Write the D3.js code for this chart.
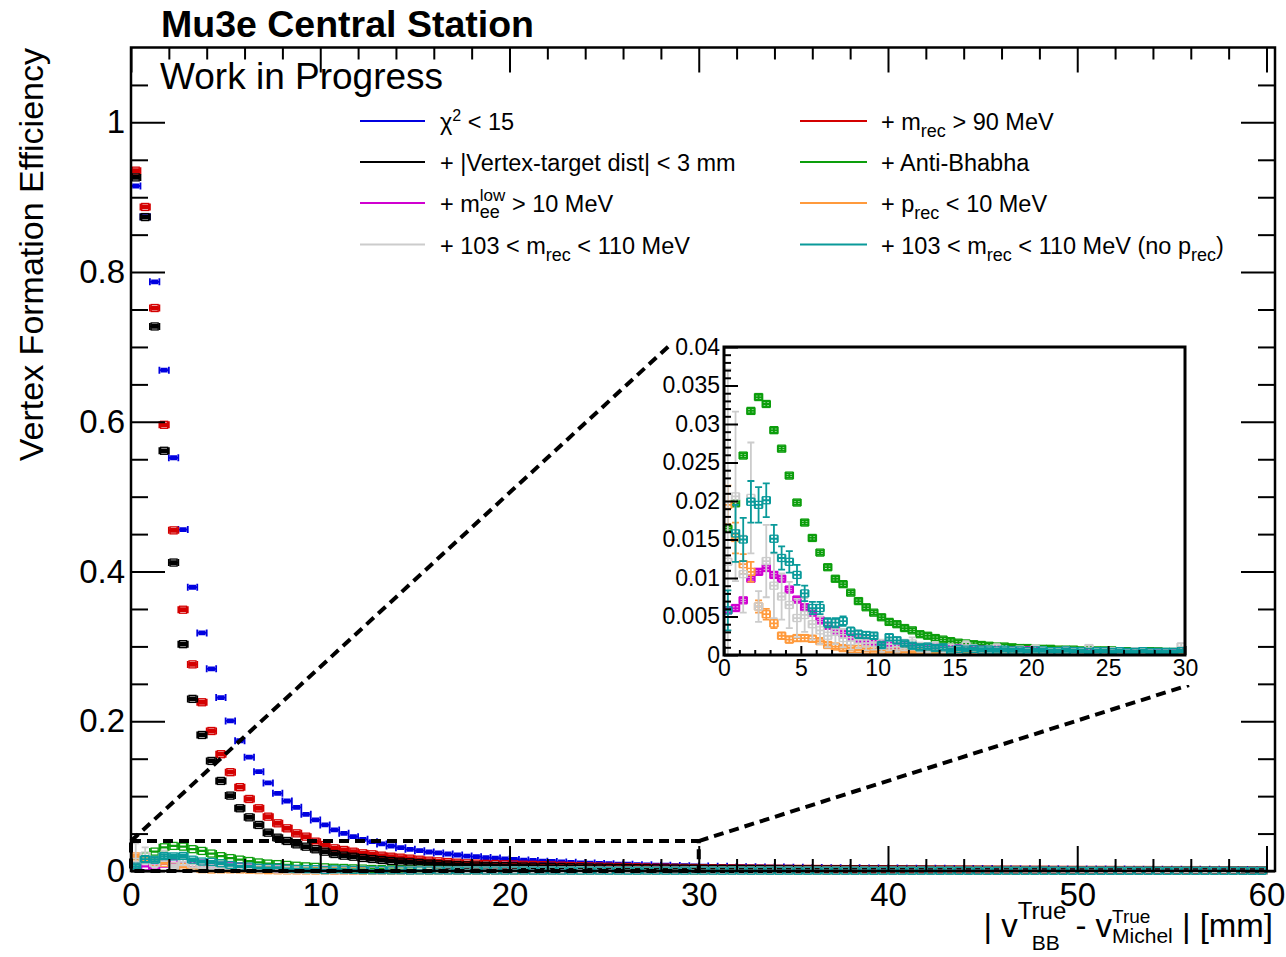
<!DOCTYPE html>
<html>
<head>
<meta charset="utf-8">
<script src="https://cdn.jsdelivr.net/npm/d3@7"></script>
<style>
  body { margin: 0; background: #fff; }
  svg { display: block; }
  svg text { white-space: pre; }
</style>
</head>
<body>
<svg id="chart" width="1286" height="957"></svg>
<script>
// bins are 0.5 mm wide, 0 - 60 mm (120 bins)
const binWidth = 0.5;

const blueEff = [
  .915,.874,.787,.669,.552,.456,.379,.318,.270,.2316,
  .2005,.174,.152,.1327,.1176,.1038,.0935,.0851,.0757,.0682,
  .0615,.0548,.0503,.0459,.0423,.0392,.0361,.0334,.0312,.0290,
  .0272,.0254,.0241,.0227,.0214,.0200,.0191,.0179,.0172,.0161,
  .0155,.0146,.0140,.0131,.0127,.0120,.0116,.0109,.0106,.0100,
  .0098,.0092,.0090,.0085,.0083,.0078,.0077,.0072,.0071,.0067,
  .0066,.0063,.0062,.0059,.0058,.0056,.0055,.0052,.0052,.0050,
  .0049,.0047,.0047,.0045,.0044,.0043,.0043,.0041,.0041,.0040,
  .0039,.0038,.0038,.0037,.0036,.0036,.0035,.0034,.0034,.0033,
  .0033,.0032,.0031,.0031,.0030,.0030,.0029,.0029,.0028,.0028,
  .0027,.0027,.0027,.0026,.0026,.0025,.0025,.0025,.0024,.0024,
  .0023,.0023,.0023,.0022,.0022,.0022,.0021,.0021,.0021,.0020];
const redEff = [
  .9355,.887,.752,.596,.455,.349,.276,.2254,.187,.156,
  .132,.112,.0962,.0838,.0726,.0637,.0570,.0503,.0459,.0392,
  .0347,.0303,.0281,.0258,.0236,.0223,.0205,.0191,.0178,.0165,
  .0151,.0138,.0129,.0120,.0111,.0102,.0099,.0095,.0093,.0090,
  .0088,.0084,.0082,.0078,.0075,.0072,.0068,.0066,.0062,.0060,
  .0057,.0055,.0053,.0050,.0048,.0046,.0045,.0043,.0041,.0040,
  .0038,.0037,.0036,.0035,.0034,.0033,.0032,.0031,.0030,.0029,
  .0028,.0028,.0027,.0026,.0026,.0025,.0024,.0024,.0023,.0023,
  .0022,.0022,.0021,.0021,.0020,.0020,.0019,.0019,.0019,.0018,
  .0018,.0017,.0017,.0017,.0016,.0016,.0016,.0015,.0015,.0015,
  .0014,.0014,.0014,.0014,.0013,.0013,.0013,.0013,.0012,.0012,
  .0012,.0012,.0012,.0011,.0011,.0011,.0011,.0011,.0010,.0010];
const blackEff = [
  .9265,.8735,.7274,.5613,.412,.303,.2299,.1817,.147,.1203,
  .1007,.0838,.0717,.0615,.0512,.0445,.0401,.0356,.0325,.0290,
  .0258,.0227,.0205,.0191,.0174,.0160,.0147,.0134,.0125,.0116,
  .0107,.0098,.0089,.0085,.0080,.0076,.0073,.0070,.0068,.0065,
  .0063,.0060,.0058,.0056,.0054,.0052,.0050,.0048,.0046,.0045,
  .0043,.0041,.0040,.0038,.0037,.0036,.0034,.0033,.0032,.0031,
  .0030,.0029,.0028,.0027,.0026,.0026,.0025,.0024,.0023,.0023,
  .0022,.0021,.0021,.0020,.0020,.0019,.0019,.0018,.0018,.0017,
  .0017,.0017,.0016,.0016,.0015,.0015,.0015,.0014,.0014,.0014,
  .0013,.0013,.0013,.0013,.0012,.0012,.0012,.0012,.0011,.0011,
  .0011,.0011,.0011,.0010,.0010,.0010,.0010,.0010,.0009,.0009,
  .0009,.0009,.0009,.0009,.0008,.0008,.0008,.0008,.0008,.0008];
const greenEff = [
  .0164,.0197,.0259,.0317,.0335,.0326,.0292,.0268,.0233,.0198,
  .0172,.0152,.0133,.0114,.0099,.0092,.0081,.0070,.0062,.0055,
  .0049,.0043,.0040,.0035,.0032,.0027,.0025,.0022,.0020,.0018,
  .0016,.0015,.0014,.0013,.0012,.0011,.0011,.0010,.0009,.0009,
  .0008,.0008,.0008,.0007,.0007,.0007,.0006,.0006,.0006,.0006,
  .0006,.0005,.0005,.0005,.0005,.0005,.0005,.0004,.0004,.0004,
  .0004,.0004,.0004,.0004,.0003,.0004,.0003,.0003,.0003,.0003,
  .0003,.0003,.0003,.0003,.0003,.0002,.0003,.0002,.0002,.0003,
  .0002,.0002,.0002,.0002,.0002,.0002,.0002,.0002,.0002,.0002,
  .0002,.0002,.0001,.0002,.0002,.0001,.0002,.0001,.0001,.0002,
  .0001,.0001,.0001,.0001,.0002,.0001,.0001,.0001,.0001,.0001,
  .0001,.0001,.0001,.0001,.0001,.0001,.0001,.0001,.0001,.0001];
const magentaEff = [
  .0058,.0061,.0071,.0099,.0108,.0113,.0104,.0099,.0085,.0072,
  .0062,.0055,.0045,.0038,.0032,.0028,.0024,.0021,.0018,.0016,
  .0014,.0012,.0012,.0011,.0011,.0010,.0010,.0010,.0009,.0009,
  .0009,.0008,.0008,.0007,.0007,.0007,.0006,.0006,.0006,.0006,
  .0005,.0005,.0005,.0005,.0005,.0004,.0004,.0004,.0004,.0004,
  .0004,.0004,.0003,.0003,.0003,.0003,.0003,.0003,.0003,.0003,
  .0003,.0003,.0003,.0002,.0003,.0002,.0002,.0002,.0002,.0002,
  .0002,.0002,.0002,.0002,.0002,.0002,.0002,.0002,.0002,.0001,
  .0002,.0002,.0001,.0002,.0001,.0002,.0001,.0001,.0002,.0001,
  .0001,.0001,.0001,.0001,.0001,.0001,.0001,.0001,.0001,.0001,
  .0001,.0001,.0001,.0001,.0001,.0001,.0001,.0001,.0001,.0001,
  .0001,.0001,.0001,.0001,.0001,.0001,.0001,.0001,.0001,.0001];
const orangeEff = [
  .0195,.0152,.0118,.0108,.0063,.0053,.0041,.0025,.0020,.0022,
  .0022,.0021,.0018,.0013,.0011,.0009,.0008,.0008,.0007,.0006,
  .0006,.0005,.0005,.0005,.0004,.0004,.0004,.0004,.0003,.0003,
  .0003,.0003,.0003,.0003,.0003,.0002,.0003,.0002,.0002,.0002,
  .0002,.0002,.0002,.0002,.0002,.0002,.0002,.0001,.0002,.0001,
  .0001,.0002,.0001,.0001,.0001,.0001,.0001,.0001,.0001,.0001,
  .0001,.0001,.0001,.0001,.0001,.0001,.0001,.0001,.0001,.0001,
  .0001,.0001,.0001,.0001,.0001,.0001,.0001,.0001,.0001,.0001,
  .0001,.0001,.0001,.0001,.0001,.0001,.0001,.0001,.0001,.0001,
  .0001,.0001,.0001,.0001,.0001,.0001,.0001,.0001,.0001,.0001,
  .0001,.0001,.0001,.0001,.0001,.0001,.0001,.0001,.0001,.0001,
  .0001,.0001,.0001,.0001,.0001,.0001,.0001,.0001,.0001,.0001];
const orangeErr = [
  .0025,.0020,.0013,.0013,.0008,.0007,.0006,.0004,.0004,.0004,
  .0004,.0004,.0003,.0003,.0003,.0003,.0002,.0002,.0002,.0002,
  .0002,.0002,.0002,.0002,.0002,.0002,.0002,.0002,.0001,.0001,
  .0001,.0001,.0001,.0001,.0001,.0001,.0001,.0001,.0001,.0001,
  .0001,.0001,.0001,.0001,.0001,.0001,.0001,.0001,.0001,.0001,
  .0001,.0001,.0001,.0001,.0001,.0001,.0001,.0001,.0001,.0001,
  .0001,.0001,.0001,.0001,.0001,.0001,.0001,.0001,.0001,.0001,
  .0001,.0001,.0001,.0001,.0001,.0001,.0001,.0001,.0001,.0001,
  .0001,.0001,.0001,.0001,.0001,.0001,.0001,.0001,.0001,.0001,
  .0001,.0001,.0001,.0001,.0001,.0001,.0001,.0001,.0001,.0001,
  .0001,.0001,.0001,.0001,.0001,.0001,.0001,.0001,.0001,.0001,
  .0001,.0001,.0001,.0001,.0001,.0001,.0001,.0001,.0001,.0001];
const grayEff = [
  .0121,.0206,.0105,.0204,.0063,.0122,.0090,.0076,.0065,.0048,
  .0052,.0040,.0032,.0025,.0030,.0022,.0018,.0020,.0015,.0016,
  .0012,.0014,.0011,.0013,.0015,.0010,.0009,.0011,.0008,.0009,
  .0007,.0012,.0008,.0006,.0007,.0009,.0006,.0005,.0007,.0005,
  .0008,.0006,.0005,.0004,.0006,.0005,.0004,.0009,.0005,.0004,
  .0005,.0004,.0003,.0005,.0004,.0003,.0004,.0003,.0004,.0011,
  .0004,.0003,.0003,.0004,.0002,.0003,.0003,.0002,.0004,.0003,
  .0002,.0003,.0002,.0002,.0003,.0002,.0002,.0003,.0002,.0002,
  .0002,.0002,.0003,.0002,.0001,.0002,.0002,.0002,.0001,.0002,
  .0002,.0001,.0002,.0002,.0001,.0002,.0001,.0001,.0002,.0001,
  .0001,.0002,.0001,.0001,.0001,.0002,.0001,.0001,.0001,.0001,
  .0001,.0001,.0001,.0002,.0001,.0001,.0001,.0001,.0001,.0001];
const grayErr = [
  .0250,.0110,.0050,.0072,.0020,.0047,.0042,.0030,.0030,.0025,
  .0022,.0020,.0018,.0015,.0016,.0012,.0011,.0011,.0009,.0009,
  .0008,.0008,.0007,.0007,.0008,.0006,.0006,.0006,.0005,.0005,
  .0005,.0006,.0005,.0004,.0004,.0005,.0004,.0004,.0004,.0003,
  .0004,.0004,.0003,.0003,.0003,.0003,.0003,.0004,.0003,.0003,
  .0003,.0003,.0002,.0003,.0003,.0002,.0002,.0002,.0002,.0004,
  .0002,.0002,.0002,.0002,.0002,.0002,.0002,.0002,.0002,.0002,
  .0002,.0002,.0002,.0002,.0002,.0002,.0002,.0002,.0002,.0002,
  .0002,.0002,.0002,.0002,.0001,.0002,.0002,.0002,.0001,.0002,
  .0002,.0001,.0002,.0002,.0001,.0002,.0001,.0001,.0002,.0001,
  .0001,.0002,.0001,.0001,.0001,.0002,.0001,.0001,.0001,.0001,
  .0001,.0001,.0001,.0002,.0001,.0001,.0001,.0001,.0001,.0001];
const tealEff = [
  .0058,.0158,.0150,.0199,.0195,.0201,.0151,.0126,.0121,.0104,
  .0080,.0061,.0061,.0042,.0042,.0044,.0031,.0027,.0026,.0025,
  .0013,.0023,.0019,.0015,.0012,.0010,.0011,.0009,.0010,.0006,
  .0008,.0007,.0008,.0007,.0007,.0006,.0007,.0006,.0006,.0005,
  .0006,.0006,.0005,.0005,.0006,.0005,.0005,.0004,.0005,.0005,
  .0004,.0005,.0004,.0004,.0005,.0004,.0004,.0004,.0004,.0005,
  .0004,.0004,.0003,.0004,.0004,.0003,.0004,.0003,.0003,.0004,
  .0003,.0003,.0004,.0003,.0003,.0003,.0003,.0003,.0002,.0003,
  .0003,.0003,.0002,.0003,.0003,.0002,.0003,.0002,.0002,.0003,
  .0002,.0002,.0003,.0002,.0002,.0002,.0002,.0002,.0002,.0002,
  .0002,.0002,.0002,.0002,.0001,.0002,.0002,.0002,.0002,.0001,
  .0002,.0002,.0001,.0002,.0002,.0001,.0002,.0002,.0001,.0002];
const tealErr = [
  .0026,.0037,.0028,.0027,.0023,.0022,.0018,.0015,.0014,.0013,
  .0010,.0008,.0008,.0006,.0006,.0006,.0005,.0005,.0004,.0004,
  .0003,.0004,.0004,.0003,.0003,.0003,.0003,.0003,.0003,.0002,
  .0002,.0002,.0002,.0002,.0002,.0002,.0002,.0002,.0002,.0002,
  .0002,.0002,.0002,.0002,.0002,.0002,.0002,.0002,.0002,.0002,
  .0002,.0002,.0002,.0002,.0002,.0002,.0002,.0002,.0002,.0002,
  .0001,.0001,.0001,.0001,.0001,.0001,.0001,.0001,.0001,.0001,
  .0001,.0001,.0001,.0001,.0001,.0001,.0001,.0001,.0001,.0001,
  .0001,.0001,.0001,.0001,.0001,.0001,.0001,.0001,.0001,.0001,
  .0001,.0001,.0001,.0001,.0001,.0001,.0001,.0001,.0001,.0001,
  .0001,.0001,.0001,.0001,.0001,.0001,.0001,.0001,.0001,.0001,
  .0001,.0001,.0001,.0001,.0001,.0001,.0001,.0001,.0001,.0001];

// typical per-bin errors of the high statistics curves
const blueErr = 0.002, redErr = 0.002, blackErr = 0.002, greenErr = 0.0003, magentaErr = 0.0003;

const xMajorTicks = [0, 10, 20, 30, 40, 50, 60];
const yMajorTicks = [0, 0.2, 0.4, 0.6, 0.8, 1];
const insetXTicks = [0, 5, 10, 15, 20, 25, 30];
const insetYTicks = [0, 0.005, 0.01, 0.015, 0.02, 0.025, 0.03, 0.035, 0.04];

const FONT = "'Liberation Sans', Arial, Helvetica, sans-serif";

// drawing order = legend order (row by row); the zoom pad only shows the lower curves
const series = [
  { vals: blueEff,    err: blueErr,    color: "#0000e0", marker: false, inset: false,
    label: ["\u03c7", { sup: "2", supSize: 16, supDy: -9 }, " < 15"] },
  { vals: redEff,     err: redErr,     color: "#d40000", marker: true, inset: false,
    label: ["+ m", { sub: "rec" }, " > 90 MeV"] },
  { vals: blackEff,   err: blackErr,   color: "#000000", marker: true, inset: false,
    label: ["+ |Vertex-target dist| < 3 mm"] },
  { vals: greenEff,   err: greenErr,   color: "#0c9e0c", marker: true, inset: true,
    label: ["+ Anti-Bhabha"] },
  { vals: magentaEff, err: magentaErr, color: "#d000d0", marker: true, inset: true,
    label: ["+ m", { sup: "low", sub: "ee", supDy: -11, subDy: 6 }, " > 10 MeV"] },
  { vals: orangeEff,  err: orangeErr,  color: "#ff9a3c", marker: true, inset: true,
    label: ["+ p", { sub: "rec" }, " < 10 MeV"] },
  { vals: grayEff,    err: grayErr,    color: "#cccccc", marker: true, inset: true,
    label: ["+ 103 < m", { sub: "rec" }, " < 110 MeV"] },
  { vals: tealEff,    err: tealErr,    color: "#0a9a9a", marker: true, inset: true,
    label: ["+ 103 < m", { sub: "rec" }, " < 110 MeV (no p", { sub: "rec" }, ")"] }
];

const svg = d3.select("#chart").attr("font-family", FONT);
svg.append("rect").attr("width", 1286).attr("height", 957).attr("fill", "#fff");

const frame = { l: 131, r: 1275, t: 47.5, b: 871 };
const x = d3.scaleLinear().domain([0, 60.45]).range([frame.l, frame.r]);
const y = d3.scaleLinear().domain([0, 1.1]).range([frame.b, frame.t]);

const inset = { l: 724, r: 1185, t: 347, b: 655 };
const pad = { l: 670, t: 345, r: 1189, b: 685 };
const xi = d3.scaleLinear().domain([0, 30]).range([inset.l, inset.r]);
const yi = d3.scaleLinear().domain([0, 0.04]).range([inset.b, inset.t]);

const defs = svg.append("defs");
defs.append("clipPath").attr("id", "clipMain").append("rect")
  .attr("x", frame.l).attr("y", frame.t).attr("width", frame.r - frame.l).attr("height", frame.b - frame.t + 4);
defs.append("clipPath").attr("id", "clipInset").append("rect")
  .attr("x", inset.l - 5).attr("y", inset.t).attr("width", inset.r - inset.l + 5).attr("height", inset.b - inset.t);

const CAP = 3.5;
const MARK = 7;

function errPath(xs, ys, s, maxX) {
  let p = "";
  s.vals.forEach((v, i) => {
    const lo = i * binWidth, hi = lo + binWidth;
    if (hi > maxX + 1e-9) return;
    const e = typeof s.err === "number" ? s.err : s.err[i];
    const x0 = xs(lo), x1 = xs(hi), xc = (x0 + x1) / 2, yc = ys(v);
    const ya = ys(Math.max(v - e, 0)), yb = ys(v + e);
    p += `M${x0},${yc}H${x1}M${x0},${yc - CAP}V${yc + CAP}M${x1},${yc - CAP}V${yc + CAP}`;
    p += `M${xc},${ya}V${yb}M${xc - CAP},${ya}H${xc + CAP}M${xc - CAP},${yb}H${xc + CAP}`;
  });
  return p;
}

function drawSeries(g, xs, ys, maxX, list) {
  list.forEach(s => {
    g.append("path")
      .attr("d", errPath(xs, ys, s, maxX))
      .attr("fill", "none").attr("stroke", s.color).attr("stroke-width", 1.8);
    if (!s.marker) return;
    const pts = s.vals.map((v, i) => ({ c: (i + 0.5) * binWidth, v })).filter(d => d.c < maxX);
    g.selectAll(null).data(pts).join("rect")
      .attr("x", d => xs(d.c) - MARK / 2).attr("y", d => ys(d.v) - MARK / 2)
      .attr("width", MARK).attr("height", MARK)
      .attr("fill", "none").attr("stroke", s.color).attr("stroke-width", 1.3);
  });
}

function styleAxis(g, size) {
  g.attr("font-family", FONT).attr("font-size", size);
  g.select(".domain").remove();
  g.selectAll(".tick line").attr("stroke", "#000").attr("stroke-width", 2);
  g.selectAll(".tick text").attr("fill", "#000");
  return g;
}

// rich text: strings, plus {sup, sub} pieces placed after the previous piece
function rich(g, x0, y0, size, items) {
  let cx = x0;
  items.forEach(it => {
    if (typeof it === "string") {
      const t = g.append("text").attr("x", cx).attr("y", y0).attr("font-size", size).text(it);
      cx += t.node().getComputedTextLength();
      return;
    }
    let w = 0;
    if (it.sup) {
      const t = g.append("text").attr("x", cx).attr("y", y0 + (it.supDy ?? -0.42 * size))
        .attr("font-size", it.supSize || 0.72 * size).text(it.sup);
      w = Math.max(w, t.node().getComputedTextLength());
    }
    if (it.sub) {
      const dx = it.subDx || 0;
      const t = g.append("text").attr("x", cx + dx).attr("y", y0 + (it.subDy ?? 0.3 * size))
        .attr("font-size", it.subSize || 0.72 * size).text(it.sub);
      w = Math.max(w, dx + t.node().getComputedTextLength());
    }
    cx += w;
  });
  return cx - x0;
}

// ---------------- main plot ----------------
const main = svg.append("g");
drawSeries(main.append("g").attr("clip-path", "url(#clipMain)"), x, y, 60, series);

// zoom box and guide lines
const dash = { stroke: "#000", "stroke-width": 4, "stroke-dasharray": "10,6", fill: "none" };
const zoomBox = main.append("rect")
  .attr("x", x(0)).attr("y", y(0.04)).attr("width", x(30) - x(0)).attr("height", y(0) - y(0.04));
const guide1 = main.append("line").attr("x1", x(0)).attr("y1", y(0.04)).attr("x2", pad.l).attr("y2", pad.t);
const guide2 = main.append("line").attr("x1", x(30)).attr("y1", y(0.04)).attr("x2", pad.r).attr("y2", pad.b);
[zoomBox, guide1, guide2].forEach(sel => Object.entries(dash).forEach(([k, v]) => sel.attr(k, v)));

// frame
main.append("rect")
  .attr("x", frame.l).attr("y", frame.t).attr("width", frame.r - frame.l).attr("height", frame.b - frame.t)
  .attr("fill", "none").attr("stroke", "#000").attr("stroke-width", 2.5);

const xMinor = d3.range(0, 61, 2).filter(v => v % 10 !== 0);
const yMinor = d3.range(0.05, 1.1, 0.05).filter(v => Math.abs(v / 0.2 - Math.round(v / 0.2)) > 1e-6);
const yFmt = d => (d === 0 || d === 1) ? String(d) : d3.format(".1f")(d);
const blank = () => "";

styleAxis(main.append("g").attr("transform", `translate(0,${frame.b})`)
  .call(d3.axisBottom(x).tickValues(xMajorTicks).tickSize(-25).tickPadding(12).tickFormat(d3.format("d"))), 33);
styleAxis(main.append("g").attr("transform", `translate(0,${frame.b})`)
  .call(d3.axisBottom(x).tickValues(xMinor).tickSize(-12).tickFormat(blank)), 10);
styleAxis(main.append("g").attr("transform", `translate(0,${frame.t})`)
  .call(d3.axisTop(x).tickValues(xMajorTicks).tickSize(-25).tickFormat(blank)), 10);
styleAxis(main.append("g").attr("transform", `translate(0,${frame.t})`)
  .call(d3.axisTop(x).tickValues(xMinor).tickSize(-12).tickFormat(blank)), 10);
styleAxis(main.append("g").attr("transform", `translate(${frame.l},0)`)
  .call(d3.axisLeft(y).tickValues(yMajorTicks).tickSize(-34).tickPadding(6).tickFormat(yFmt)), 33);
styleAxis(main.append("g").attr("transform", `translate(${frame.l},0)`)
  .call(d3.axisLeft(y).tickValues(yMinor).tickSize(-17).tickFormat(blank)), 10);
styleAxis(main.append("g").attr("transform", `translate(${frame.r},0)`)
  .call(d3.axisRight(y).tickValues(yMajorTicks).tickSize(-34).tickFormat(blank)), 10);
styleAxis(main.append("g").attr("transform", `translate(${frame.r},0)`)
  .call(d3.axisRight(y).tickValues(yMinor).tickSize(-17).tickFormat(blank)), 10);

// titles
svg.append("text").attr("x", 161).attr("y", 37).attr("font-size", 37.5).attr("font-weight", "bold")
  .text("Mu3e Central Station");
svg.append("text").attr("x", 160).attr("y", 89).attr("font-size", 37).text("Work in Progress");
svg.append("text").attr("transform", "translate(43,48) rotate(-90)").attr("text-anchor", "end")
  .attr("font-size", 34).text("Vertex Formation Efficiency");

const xt = svg.append("g");
const xtWidth = rich(xt, 0, 937, 33, [
  "| v",
  { sup: "True", supSize: 24, supDy: -18, sub: "BB", subSize: 21, subDy: 13, subDx: 14 },
  " - v",
  { sup: "True", supSize: 19, supDy: -14, sub: "Michel", subSize: 21, subDy: 6 },
  " | [mm]"
]);
xt.attr("transform", `translate(${frame.r - 2 - xtWidth},0)`);

// legend
const legend = svg.append("g");
const legendCols = [{ line: [360, 425], text: 440 }, { line: [800, 867], text: 881 }];
const legendRowY = [121, 162, 203, 244.5];
series.forEach((s, i) => {
  const col = legendCols[i % 2], ly = legendRowY[Math.floor(i / 2)];
  legend.append("line").attr("x1", col.line[0]).attr("x2", col.line[1]).attr("y1", ly).attr("y2", ly)
    .attr("stroke", s.color).attr("stroke-width", 2);
  const items = s.label.map(it => typeof it === "string" ? it
    : Object.assign({ supSize: 17, subSize: 18, subDy: 7 }, it));
  rich(legend, col.text, ly + 9, 23.5, items);
});

// ---------------- inset ----------------
const ins = svg.append("g");
ins.append("rect").attr("x", pad.l).attr("y", pad.t).attr("width", pad.r - pad.l).attr("height", pad.b - pad.t)
  .attr("fill", "#fff");
drawSeries(ins.append("g").attr("clip-path", "url(#clipInset)"), xi, yi, 30, series.filter(s => s.inset));

const ixMinor = d3.range(0, 31, 1).filter(v => v % 5 !== 0);
const iyMinor = d3.range(0.001, 0.0405, 0.001).filter(v => Math.abs(v / 0.005 - Math.round(v / 0.005)) > 1e-6);
const iyFmt = d => d === 0 ? "0" : String(+d.toFixed(3));

styleAxis(ins.append("g").attr("transform", `translate(0,${inset.b})`)
  .call(d3.axisBottom(xi).tickValues(insetXTicks).tickSize(-9).tickPadding(5).tickFormat(d3.format("d"))), 23);
styleAxis(ins.append("g").attr("transform", `translate(0,${inset.b})`)
  .call(d3.axisBottom(xi).tickValues(ixMinor).tickSize(-5).tickFormat(blank)), 10);
styleAxis(ins.append("g").attr("transform", `translate(${inset.l},0)`)
  .call(d3.axisLeft(yi).tickValues(insetYTicks).tickSize(-14).tickPadding(4).tickFormat(iyFmt)), 23);
styleAxis(ins.append("g").attr("transform", `translate(${inset.l},0)`)
  .call(d3.axisLeft(yi).tickValues(iyMinor).tickSize(-7).tickFormat(blank)), 10);

ins.append("rect")
  .attr("x", inset.l).attr("y", inset.t).attr("width", inset.r - inset.l).attr("height", inset.b - inset.t)
  .attr("fill", "none").attr("stroke", "#000").attr("stroke-width", 3);
</script>
</body>
</html>
